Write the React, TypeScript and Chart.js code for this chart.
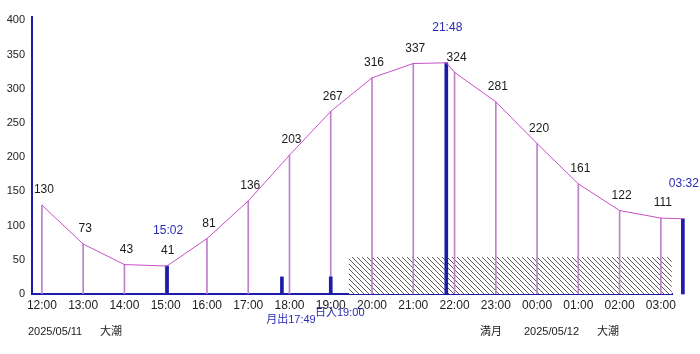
import React, { useEffect, useRef } from "react";
import { Chart, registerables } from "chart.js";

Chart.register(...registerables);

// ---- data ----
const hourLabels = ["12:00", "13:00", "14:00", "15:00", "16:00", "17:00", "18:00", "19:00", "20:00", "21:00", "22:00", "23:00", "00:00", "01:00", "02:00", "03:00"];
const hourValues = [130, 73, 43, 41, 81, 136, 203, 267, 316, 337, 324, 281, 220, 161, 122, 111];
const extremeHours = [3 + 2 / 60, 9 + 48 / 60, 15 + 32 / 60];
const extremeValues = [41, 338, 110];
const extremeLabels = ["15:02", "21:48", "03:32"];
const astroHours = [5 + 49 / 60, 7];
const astroValues = [25, 25];
const astroLabels = ["月出17:49", "日入19:00"];
const darkHours = [7 + 26 / 60, 15 + 16 / 60];
const darkLevel = 54;
const yTicks = [0, 50, 100, 150, 200, 250, 300, 350, 400];
const footerLeft = ["2025/05/11", "大潮"];
const footerRight = ["満月", "2025/05/12", "大潮"];

const BLUE = "#1c1ca8";
const LINE = "#c850c8";
const DROP = "#bf80cc";

const textPlugin = {
  id: "tideText",
  afterDatasetsDraw(chart: any) {
    const { ctx, scales, chartArea } = chart;
    const x = scales.x;
    const y = scales.y;
    ctx.save();
    ctx.textAlign = "center";
    ctx.textBaseline = "middle";
    ctx.fillStyle = "#1a1a1a";
    ctx.font = "12px 'Liberation Sans', 'Noto Sans CJK JP'";
    hourValues.forEach((v, i) => {
      ctx.fillText(String(v), x.getPixelForValue(i) + 2, y.getPixelForValue(v) - 15);
    });
    ctx.fillStyle = "#2a2ab8";
    ctx.font = "12px 'Liberation Sans', 'Noto Sans CJK JP'";
    extremeHours.forEach((h, i) => {
      ctx.fillText(extremeLabels[i], x.getPixelForValue(h) + 1, y.getPixelForValue(extremeValues[i]) - 35);
    });
    ctx.font = "11px 'Liberation Sans', 'Noto Sans CJK JP'";
    const astroRows = [26, 19];
    astroHours.forEach((h, i) => {
      ctx.fillText(astroLabels[i], x.getPixelForValue(h) + 9, chartArea.bottom + astroRows[i]);
    });
    ctx.fillStyle = "#1a1a1a";
    ctx.textAlign = "left";
    const fy = chartArea.bottom + 38;
    ctx.fillText(footerLeft[0], 28, fy);
    ctx.fillText(footerLeft[1], 100, fy);
    ctx.fillText(footerRight[0], 480, fy);
    ctx.fillText(footerRight[1], 524, fy);
    ctx.fillText(footerRight[2], 597, fy);
    ctx.restore();
  },
};

function makeHatch(): CanvasPattern | string {
  const n = 5;
  const c = document.createElement("canvas");
  c.width = n;
  c.height = n;
  const g = c.getContext("2d");
  if (!g) return "#888";
  g.fillStyle = "#ffffff";
  g.fillRect(0, 0, n, n);
  g.fillStyle = "#5a5a5a";
  for (let i = 0; i < n; i++) g.fillRect(i, i, 1, 1);
  const p = g.createPattern(c, "repeat");
  return p || "#888";
}

export default function App() {
  const ref = useRef<HTMLCanvasElement | null>(null);
  useEffect(() => {
    if (!ref.current) return;
    const linePts: { x: number; y: number }[] = hourValues.map((v, i) => ({ x: i, y: v }));
    extremeHours.forEach((h, i) => linePts.push({ x: h, y: extremeValues[i] }));
    linePts.sort((a, b) => a.x - b.x);

    const chart = new Chart(ref.current, {
      type: "line",
      data: {
        datasets: [
          {
            type: "line",
            data: linePts,
            borderColor: LINE,
            borderWidth: 1,
            pointRadius: 0,
            tension: 0,
            fill: false,
            clip: false,
            order: 1,
          } as any,
          {
            type: "bar",
            data: extremeHours.map((h, i) => ({ x: h, y: extremeValues[i] })).concat(
              astroHours.map((h, i) => ({ x: h, y: astroValues[i] }))
            ),
            backgroundColor: BLUE,
            barThickness: 3,
            grouped: false,
            clip: false,
            order: 2,
          } as any,
          {
            type: "bar",
            data: hourValues.map((v, i) => ({ x: i, y: v })),
            backgroundColor: DROP,
            barThickness: 1,
            grouped: false,
            order: 3,
          } as any,
          {
            type: "line",
            data: darkHours.map((h) => ({ x: h, y: darkLevel })),
            borderWidth: 0,
            borderColor: "rgba(0,0,0,0)",
            pointRadius: 0,
            fill: "origin",
            backgroundColor: makeHatch(),
            order: 4,
          } as any,
        ],
      },
      options: {
        responsive: false,
        animation: false,
        events: [],
        layout: { padding: { top: 17, right: 28, left: 0, bottom: 0 } },
        plugins: { legend: { display: false }, tooltip: { enabled: false } },
        scales: {
          x: {
            type: "linear",
            min: -0.24,
            max: 15.27,
            offset: false,
            grid: { display: false, drawTicks: false },
            border: { display: true, color: BLUE, width: 2 },
            afterBuildTicks: (s: any) => {
              s.ticks = hourLabels.map((_, i) => ({ value: i }));
            },
            afterFit: (s: any) => {
              s.height = 60;
            },
            ticks: {
              autoSkip: false,
              maxRotation: 0,
              padding: 4,
              color: "#222",
              font: { family: "'Liberation Sans'", size: 12 },
              callback: (v: any) => hourLabels[Math.round(Number(v))] ?? "",
            },
          },
          y: {
            type: "linear",
            min: 0,
            max: 405,
            grid: { display: false, drawTicks: false },
            border: { display: true, color: BLUE, width: 2 },
            afterBuildTicks: (s: any) => {
              s.ticks = yTicks.map((v) => ({ value: v }));
            },
            afterFit: (s: any) => {
              s.width = 32;
            },
            ticks: {
              padding: 7,
              color: "#222",
              font: { family: "'Liberation Sans'", size: 11 },
            },
          },
        },
      },
      plugins: [textPlugin],
    });
    return () => chart.destroy();
  }, []);

  return (
    <div style={{ position: "fixed", left: 0, top: 0, width: 700, height: 354, background: "#fff" }}>
      <canvas ref={ref} width={700} height={354} style={{ width: 700, height: 354 }} />
    </div>
  );
}
